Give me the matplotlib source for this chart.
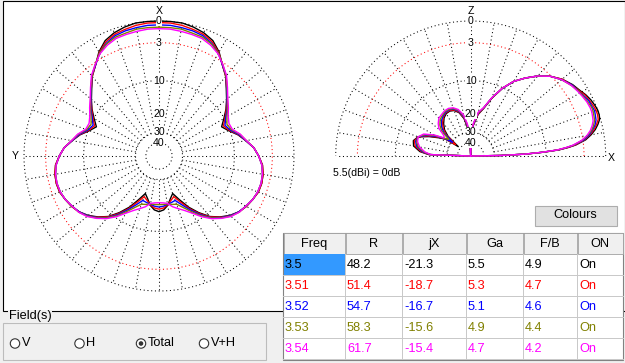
import numpy as np
import matplotlib.pyplot as plt
from matplotlib.patches import Rectangle, Circle

# Azimut (X ke atas, Y ke kiri), setengah pola 0..180 derajat, dB relatif 5.5 dBi
az_angle = np.arange(0, 181, 5)
az_3500 = [0.0, 0.0, 0.0, -0.2, -0.5, -1.0, -2.0, -3.4, -4.5, -6.0, -7.3, -8.6, -10.1, -11.5,
           -10.3, -8.6, -7.3, -6.0, -5.2, -4.5, -4.2, -4.1, -4.2, -4.6, -5.0, -5.6, -6.5, -7.7,
           -9.2, -11.5, -14.2, -17.7, -20.9, -19.2, -17.0, -15.7, -15.2]
az_3510 = [-0.2, -0.2, -0.3, -0.5, -0.7, -1.2, -2.1, -3.4, -4.5, -5.9, -7.2, -8.5, -9.8, -11.0,
           -10.1, -8.5, -7.3, -6.0, -5.2, -4.5, -4.2, -4.1, -4.2, -4.6, -5.0, -5.6, -6.4, -7.6,
           -9.1, -11.2, -13.7, -16.8, -19.5, -18.5, -17.2, -16.3, -16.0]
az_3520 = [-0.5, -0.5, -0.6, -0.7, -0.9, -1.4, -2.2, -3.4, -4.4, -5.9, -7.2, -8.3, -9.6, -10.6,
           -9.9, -8.4, -7.3, -6.0, -5.2, -4.6, -4.3, -4.2, -4.3, -4.6, -5.1, -5.6, -6.4, -7.5,
           -8.9, -10.9, -13.3, -15.8, -18.0, -17.7, -17.4, -16.9, -16.7]
az_3530 = [-0.8, -0.8, -0.8, -1.0, -1.1, -1.5, -2.2, -3.3, -4.4, -5.8, -7.1, -8.2, -9.3, -10.1,
           -9.6, -8.2, -7.2, -6.0, -5.2, -4.6, -4.3, -4.2, -4.3, -4.6, -5.1, -5.5, -6.3, -7.4,
           -8.8, -10.6, -12.8, -14.9, -16.6, -17.0, -17.5, -17.5, -17.5]
az_3540 = [-1.0, -1.0, -1.1, -1.2, -1.3, -1.7, -2.3, -3.3, -4.3, -5.7, -7.0, -8.0, -9.0, -9.6,
           -9.4, -8.1, -7.2, -6.0, -5.2, -4.6, -4.3, -4.2, -4.3, -4.6, -5.1, -5.5, -6.2, -7.3,
           -8.6, -10.3, -12.3, -13.9, -15.1, -16.2, -17.7, -18.1, -18.2]

# Elevasi (X ke kanan, Z ke atas), -99 = nol
el_angle = [0, 1, 2, 3, 4, 5, 6, 8, 10, 12, 14, 16, 18, 20, 22, 25, 28, 31, 35, 40, 45, 50, 55,
            60, 65, 70, 75, 80, 85, 88, 90, 93, 96, 100, 105, 110, 115, 120, 125, 130, 135, 139,
            143, 146, 150, 155, 160, 165, 170, 175, 178, 180]
el_3500 = [-99, -25.8, -15.4, -10.6, -7.2, -5.5, -4.2, -2.6, -1.7, -1.0, -0.5, -0.1, 0.0, 0.0,
           -0.1, -0.3, -0.6, -1.0, -1.4, -2.1, -3.1, -4.4, -6.0, -7.7, -10.2, -13.5, -17.4, -20.0,
           -25.2, -31.1, -99, -37.7, -27.0, -21.8, -18.9, -17.6, -17.2, -17.4, -18.3, -20.0, -22.2,
           -25.8, -37.1, -25.8, -22.5, -18.5, -15.1, -14.1, -14.5, -16.7, -20.0, -99]
el_3510 = [-99, -25.8, -15.5, -10.7, -7.3, -5.6, -4.3, -2.8, -1.9, -1.2, -0.7, -0.3, -0.2, -0.2,
           -0.3, -0.5, -0.7, -1.1, -1.5, -2.1, -3.1, -4.4, -6.0, -7.7, -10.2, -13.5, -17.3, -19.8,
           -24.9, -30.8, -99, -36.5, -26.4, -21.4, -18.6, -17.4, -17.0, -17.1, -17.9, -19.3, -21.3,
           -24.4, -33.8, -25.5, -21.9, -18.0, -15.1, -14.4, -15.0, -17.2, -20.2, -99]
el_3520 = [-99, -25.8, -15.5, -10.8, -7.4, -5.8, -4.5, -2.9, -2.0, -1.4, -0.9, -0.6, -0.5, -0.4,
           -0.5, -0.6, -0.9, -1.2, -1.5, -2.2, -3.1, -4.4, -6.0, -7.7, -10.2, -13.4, -17.2, -19.5,
           -24.6, -30.6, -99, -35.4, -25.8, -21.0, -18.3, -17.1, -16.7, -16.9, -17.6, -18.6, -20.4,
           -22.9, -30.6, -25.2, -21.3, -17.5, -15.1, -14.8, -15.5, -17.6, -20.5, -99]
el_3530 = [-99, -25.8, -15.6, -10.8, -7.5, -5.9, -4.6, -3.1, -2.2, -1.5, -1.1, -0.8, -0.7, -0.6,
           -0.6, -0.8, -1.0, -1.2, -1.6, -2.2, -3.1, -4.4, -6.0, -7.7, -10.1, -13.4, -17.1, -19.3,
           -24.3, -30.3, -99, -34.2, -25.1, -20.5, -18.0, -16.9, -16.5, -16.6, -17.2, -17.9, -19.4,
           -21.5, -27.3, -24.8, -20.6, -16.9, -15.1, -15.1, -15.9, -18.1, -20.7, -99]
el_3540 = [-99, -25.8, -15.6, -10.9, -7.6, -6.0, -4.7, -3.2, -2.3, -1.7, -1.3, -1.0, -0.9, -0.8,
           -0.8, -0.9, -1.1, -1.3, -1.6, -2.2, -3.1, -4.4, -6.0, -7.7, -10.1, -13.3, -17.0, -19.0,
           -24.0, -30.0, -99, -33.0, -24.5, -20.1, -17.7, -16.6, -16.2, -16.3, -16.8, -17.2, -18.5,
           -20.0, -24.0, -24.5, -20.0, -16.4, -15.1, -15.4, -16.4, -18.5, -20.9, -99]

# Tabel hasil
freq = ["3.5", "3.51", "3.52", "3.53", "3.54"]
res_r = ["48.2", "51.4", "54.7", "58.3", "61.7"]
res_jx = ["-21.3", "-18.7", "-16.7", "-15.6", "-15.4"]
gain = ["5.5", "5.3", "5.1", "4.9", "4.7"]
fb = ["4.9", "4.7", "4.6", "4.4", "4.2"]
state = ["On", "On", "On", "On", "On"]
headers = ["Freq", "R", "jX", "Ga", "F/B", "ON"]
warna = ["#000000", "#ff0000", "#0000ff", "#808000", "#ff00ff"]
rings = [0, -3, -10, -30, -40]
ring_labels = [0, -3, -10, -20, -30, -40]

plt.rcParams["font.family"] = ["Liberation Sans", "DejaVu Sans"]
W, H = 625, 363
fig = plt.figure(figsize=(W / 100, H / 100), dpi=100)
fig.patch.set_facecolor("#f0f0f0")


# skala log ARRL: r = 0.89^(-dB/2)
def fwd(db):
    return 0.89 ** (-np.asarray(db, float) / 2)


def inv(r):
    return -2 * np.log(np.clip(r, 1e-12, None)) / np.log(0.89)


def rect_px(x0, y0, w, h):
    return [x0 / W, (H - y0 - h) / H, w / W, h / H]


bg = fig.add_axes([0, 0, 1, 1], zorder=0)
bg.set_xlim(0, W)
bg.set_ylim(H, 0)
bg.axis("off")
bg.add_patch(Rectangle((2.5, 0.5), 622, 310, fc="white", ec="black", lw=0.8))

DOT = (0, (1, 2.6))


def siapkan(rect, half):
    ax = fig.add_axes(rect, projection="polar", zorder=2)
    ax.set_rscale("function", functions=(fwd, inv))
    ax.set_rlim(-300, 0)
    if not half:
        ax.set_theta_zero_location("N")
    ax.set_xticks([])
    ax.set_yticks([])
    ax.grid(False)
    for s in ax.spines.values():
        s.set_visible(False)
    ax.patch.set_alpha(0)
    t1 = 180 if half else 360
    tt = np.radians(np.linspace(0, t1, 721))
    for lv in rings:
        ax.plot(tt, np.full_like(tt, lv), color="red" if lv == -3 else "black",
                lw=0.75, ls=DOT, clip_on=False)
    for a in range(0, t1 + 1 if half else t1, 10):
        r0 = -300 if (half and a in (0, 180)) else -30
        ax.plot([np.radians(a)] * 2, [r0, 0], color="black", lw=0.75, ls=DOT, clip_on=False)
    tl = 0 if not half else np.pi / 2
    for lv in ring_labels:
        ax.text(tl, lv, str(-lv), ha="center", va="center", fontsize=7.6, clip_on=False,
                bbox=dict(fc="white", ec="none", pad=0.2))
    return ax


ax1 = siapkan(rect_px(24, 21, 270, 270), False)
ax2 = siapkan(rect_px(335.7, 21, 270, 270), True)

th_full = np.radians(np.concatenate([az_angle, 360 - az_angle[::-1][1:]]))
for vals, c in zip([az_3500, az_3510, az_3520, az_3530, az_3540], warna):
    v = np.asarray(vals)
    ax1.plot(th_full, np.concatenate([v, v[::-1][1:]]), color=c, lw=1.0, clip_on=False)

th_el = np.radians(el_angle)
for vals, c in zip([el_3500, el_3510, el_3520, el_3530, el_3540], warna):
    ax2.plot(th_el, vals, color=c, lw=1.0, clip_on=False)

fg = fig.add_axes([0, 0, 1, 1], zorder=5)
fg.set_xlim(0, W)
fg.set_ylim(H, 0)
fg.axis("off")
fg.patch.set_alpha(0)

fs_plot = 7.6
fg.text(159, 11, "X", ha="center", va="center", fontsize=fs_plot)
fg.text(15, 156, "Y", ha="center", va="center", fontsize=fs_plot)
fg.text(470.7, 11, "Z", ha="center", va="center", fontsize=fs_plot)
fg.text(611, 158, "X", ha="center", va="center", fontsize=fs_plot)
fg.text(333, 173, "5.5(dBi) = 0dB", ha="left", va="center", fontsize=fs_plot)

fs = 9.2
# tombol Colours
fg.add_patch(Rectangle((534.5, 205.5), 82, 20, fc="#e1e1e1", ec="#adadad", lw=0.8))
fg.text(575.5, 215.5, "Colours", ha="center", va="center", fontsize=fs)

# tabel
cx = [283, 345, 402, 466, 523, 577, 623]
top, hh, rh = 232.5, 21.5, 21
fg.add_patch(Rectangle((cx[0], top), cx[-1] - cx[0], hh + rh * 5 + 1, fc="white",
                       ec="#828282", lw=0.8))
for k in range(6):
    fg.add_patch(Rectangle((cx[k] + 0.5, top + 0.5), cx[k + 1] - cx[k] - 1, hh - 1,
                           fc="#f0f0f0", ec="#a0a0a0", lw=0.6))
    fg.text((cx[k] + cx[k + 1]) / 2, top + hh / 2 + 0.5, headers[k], ha="center",
            va="center", fontsize=fs)
fg.add_patch(Rectangle((cx[0] + 0.5, top + hh), cx[1] - cx[0] - 1, rh, fc="#3399ff", ec="none"))
kolom = [freq, res_r, res_jx, gain, fb, state]
for i in range(5):
    y0 = top + hh + rh * i
    fg.plot([cx[0], cx[-1]], [y0 + rh, y0 + rh], color="#c8c8c8", lw=0.7)
    for k in range(6):
        fg.text(cx[k] + 2, y0 + rh / 2 + 0.5, kolom[k][i], ha="left", va="center",
                fontsize=fs, color=warna[i])
for k in range(1, 6):
    fg.plot([cx[k], cx[k]], [top + hh, top + hh + rh * 5], color="#c8c8c8", lw=0.7)

# grup Field(s)
fg.add_patch(Rectangle((2.5, 322.5), 263.5, 37, fc="none", ec="#bcbcbc", lw=0.8))
fg.text(9, 316.5, "Field(s)", ha="left", va="center", fontsize=fs,
        bbox=dict(fc="#f0f0f0", ec="none", pad=0.5))
radio = [(15, "V"), (79.5, "H"), (141, "Total"), (204, "V+H")]
for x, lab in radio:
    fg.add_patch(Circle((x, 343.5), 4.7, fc="white", ec="#333333", lw=0.8))
    if lab == "Total":
        fg.add_patch(Circle((x, 343.5), 2.3, fc="#333333", ec="none"))
    fg.text(x + 6.5, 343.5, lab, ha="left", va="center", fontsize=fs)

fig.savefig("out.png", dpi=100, facecolor=fig.get_facecolor())
